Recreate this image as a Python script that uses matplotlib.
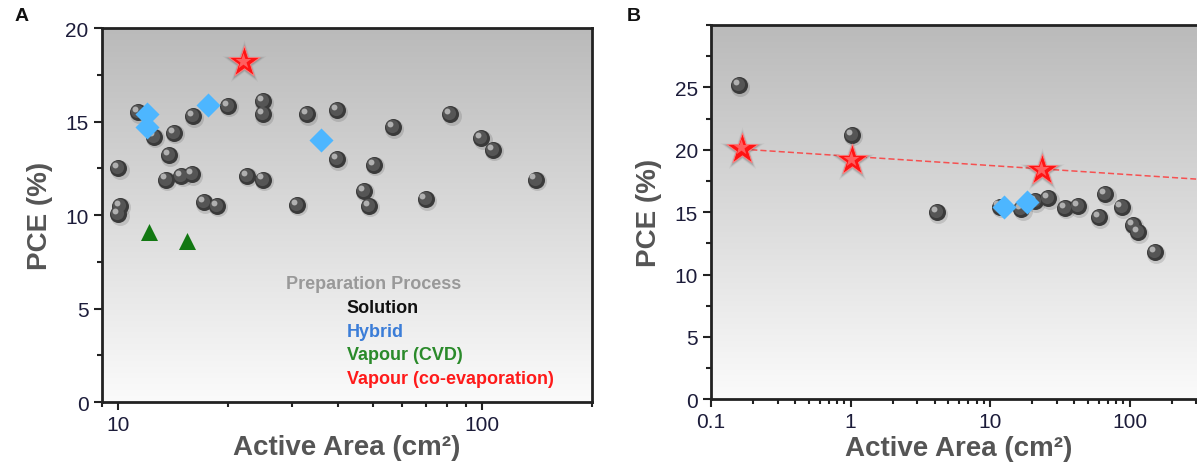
import numpy as np
import matplotlib
matplotlib.use("Agg")
import matplotlib.pyplot as plt
import matplotlib.ticker as mticker
from matplotlib.transforms import offset_copy

plt.rcParams['font.family'] = ['Liberation Sans', 'DejaVu Sans']

# --- panel A data (active area cm2, PCE %)
a_sol_x = [11.3, 12.5, 14.2, 13.8, 16.0, 20.0, 25.0, 25.0, 10.0, 10.1, 10.0, 13.5,
           14.9, 15.95, 17.2, 18.7, 22.5, 25.0, 32.9, 39.8, 39.8, 56.7, 50.3, 47.2,
           48.7, 30.9, 69.8, 81.7, 99.4, 107, 140]
a_sol_y = [15.5, 14.2, 14.4, 13.2, 15.3, 15.85, 16.1, 15.4, 12.5, 10.5, 10.05, 11.9,
           12.1, 12.2, 10.7, 10.5, 12.1, 11.9, 15.4, 15.6, 13.0, 14.7, 12.7, 11.3,
           10.5, 10.55, 10.85, 15.4, 14.1, 13.5, 11.9]
a_hyb_x = [12.0, 12.0, 17.6, 36.0]
a_hyb_y = [15.4, 14.7, 15.9, 14.0]
a_cvd_x = [12.1, 15.4]
a_cvd_y = [9.1, 8.6]
a_coev_x = [22.1]
a_coev_y = [18.2]

# --- panel B data
b_sol_x = [0.159, 1.02, 4.16, 11.7, 16.8, 21.0, 26.2, 34.5, 42.4, 67.2, 60.6, 87.6,
           106, 115, 152]
b_sol_y = [25.2, 21.2, 15.0, 15.45, 15.25, 15.9, 16.1, 15.35, 15.5, 16.45, 14.6, 15.4,
           14.0, 13.4, 11.8]
b_hyb_x = [12.6, 18.5]
b_hyb_y = [15.4, 15.85]
b_coev_x = [0.167, 1.03, 23.5]
b_coev_y = [20.1, 19.2, 18.4]
b_fit_x = [0.167, 300]
b_fit_y = [20.05, 17.65]

legend_items = ["Solution", "Hybrid", "Vapour (CVD)", "Vapour (co-evaporation)"]
legend_colors = ["#111111", "#3b7dd8", "#2a8a2a", "#ff1a1a"]

TICK_C = "#1c1c3a"
LABEL_C = "#555555"


def gradient_bg(ax):
    g = np.linspace(0, 1, 256).reshape(-1, 1)
    cmap = matplotlib.colors.LinearSegmentedColormap.from_list("bg", ["#bababa", "#fbfbfb"])
    ax.imshow(g, extent=(0, 1, 0, 1), origin='upper', transform=ax.transAxes, cmap=cmap,
              aspect='auto', zorder=0, interpolation='bilinear')


def spheres(ax, x, y, s=150):
    fig = ax.figure
    ax.scatter(x, y, s=s * 1.25, c="#000000", alpha=0.12, lw=0, zorder=3,
               transform=offset_copy(ax.transData, fig=fig, x=0.8, y=-1.2, units='points'))
    ax.scatter(x, y, s=s, c="#3a3a3a", lw=0, zorder=4)
    ax.scatter(x, y, s=s * 0.6, c="#555555", lw=0, zorder=5,
               transform=offset_copy(ax.transData, fig=fig, x=-0.7, y=0.7, units='points'))
    ax.scatter(x, y, s=s * 0.12, c="#b0b0b0", lw=0, zorder=6,
               transform=offset_copy(ax.transData, fig=fig, x=-2.2, y=2.2, units='points'))


def stars(ax, x, y, s=560):
    fig = ax.figure
    sh = offset_copy(ax.transData, fig=fig, x=0, y=-1.0, units='points')
    for k, a in [(2.0, 0.06), (1.6, 0.10), (1.3, 0.16)]:
        ax.scatter(x, y, s=s * k, marker='*', c="#444444", alpha=a, lw=0, zorder=6,
                   transform=sh)
    ax.scatter(x, y, s=s, marker='*', c="#ff1414", edgecolors="#ff8080", lw=0.6, zorder=8)
    ax.scatter(x, y, s=s * 0.25, marker='*', c="#ff9090", alpha=0.6, lw=0, zorder=9,
               transform=offset_copy(ax.transData, fig=fig, x=-0.8, y=0.8, units='points'))


def style_axes(ax):
    for sp in ax.spines.values():
        sp.set_linewidth(2.0)
        sp.set_color("#222222")
    ax.tick_params(which='both', direction='out', top=False, right=False,
                   colors="#222222", labelcolor=TICK_C, labelsize=15, width=1.5)
    ax.tick_params(which='major', length=6)
    ax.tick_params(which='minor', length=3.5)
    ax.xaxis.set_major_formatter(mticker.FuncFormatter(lambda v, p: f"{v:g}"))
    ax.xaxis.set_minor_formatter(mticker.NullFormatter())
    ax.yaxis.set_major_locator(mticker.MultipleLocator(5))
    ax.yaxis.set_minor_locator(mticker.MultipleLocator(2.5))
    ax.set_xlabel("Active Area (cm²)", fontsize=20, fontweight='bold', color=LABEL_C)
    ax.set_ylabel("PCE (%)", fontsize=20, fontweight='bold', color=LABEL_C)


fig = plt.figure(figsize=(11.97, 4.77), dpi=100)

# ---------- A
axA = fig.add_axes([0.085, 0.155, 0.4095, 0.784])
gradient_bg(axA)
axA.set_xscale('log')
axA.set_xlim(9, 200)
axA.set_ylim(0, 20)
spheres(axA, a_sol_x, a_sol_y)
axA.scatter(a_hyb_x, a_hyb_y, s=150, marker='D', c="#4db6ff", lw=0, zorder=7)
axA.scatter(a_cvd_x, a_cvd_y, s=150, marker='^', c="#127812", lw=0, zorder=7)
stars(axA, a_coev_x, a_coev_y)
style_axes(axA)
axA.xaxis.set_label_coords(0.5, -0.085)
axA.yaxis.set_label_coords(-0.1, 0.5)

axA.text(0.376, 0.318, "Preparation Process", transform=axA.transAxes, fontsize=13,
         fontweight='bold', color="#999999", va='center', ha='left')
for i, (t, c) in enumerate(zip(legend_items, legend_colors)):
    axA.text(0.50, 0.254 - i * 0.064, t, transform=axA.transAxes, fontsize=13,
             fontweight='bold', color=c, va='center', ha='left')

# ---------- B
axB = fig.add_axes([0.594, 0.1608, 0.4662, 0.7847])
gradient_bg(axB)
axB.set_xscale('log')
axB.set_xlim(0.1, 1000)
axB.set_ylim(0, 30)
axB.plot(b_fit_x, b_fit_y, color="#ff3030", lw=1.1, ls=(0, (4, 2)), alpha=0.8, zorder=5)
spheres(axB, b_sol_x, b_sol_y)
axB.scatter(b_hyb_x, b_hyb_y, s=150, marker='D', c="#4db6ff", lw=0, zorder=7)
stars(axB, b_coev_x, b_coev_y)
style_axes(axB)
axB.set_yticks([0, 5, 10, 15, 20, 25])
axB.yaxis.set_minor_locator(mticker.MultipleLocator(2.5))
axB.set_xticks([0.1, 1, 10, 100])
axB.xaxis.set_minor_locator(mticker.LogLocator(base=10, subs=np.arange(2, 10), numticks=20))
axB.xaxis.set_label_coords(0.444, -0.095)
axB.yaxis.set_label_coords(-0.088, 0.5)

fig.text(0.012, 0.955, "A", fontsize=14, fontweight='bold', color="#111111")
fig.text(0.524, 0.955, "B", fontsize=14, fontweight='bold', color="#111111")

fig.savefig("out.png", dpi=100)
